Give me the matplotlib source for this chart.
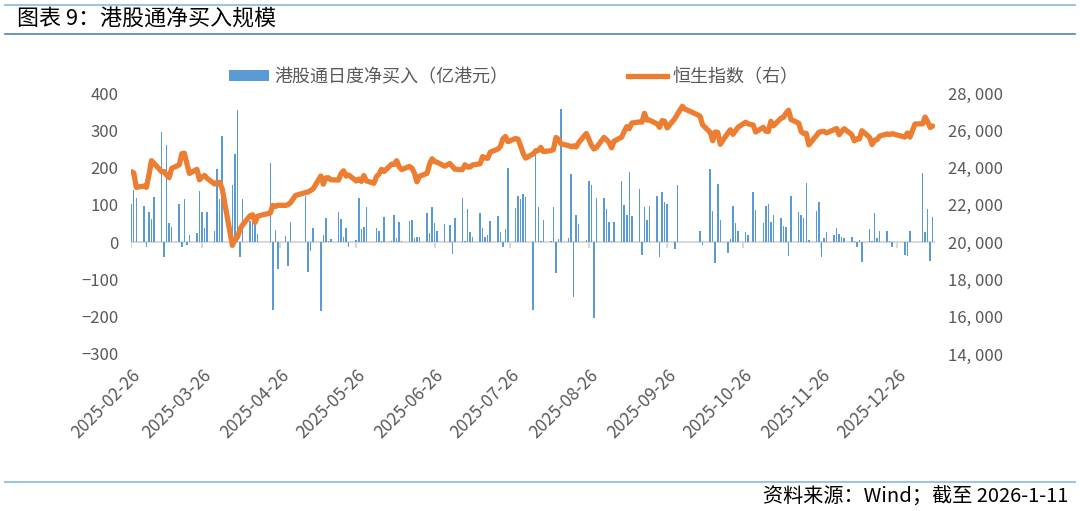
import numpy as np
import pandas as pd
import matplotlib
matplotlib.use("Agg")
import matplotlib.pyplot as plt
import matplotlib.transforms as mtransforms
from matplotlib.lines import Line2D
from matplotlib.patches import Patch

plt.rcParams['font.family'] = ['Noto Sans CJK SC', 'DejaVu Sans']

# trading days (HK market), one line per month
dates = pd.to_datetime([
    "2025-02-26", "2025-02-27", "2025-02-28",
    "2025-03-03", "2025-03-04", "2025-03-05", "2025-03-06", "2025-03-07", "2025-03-10", "2025-03-11",
    "2025-03-12", "2025-03-13", "2025-03-14", "2025-03-17", "2025-03-18", "2025-03-19", "2025-03-20",
    "2025-03-21", "2025-03-24", "2025-03-25", "2025-03-26", "2025-03-27", "2025-03-28", "2025-03-31",
    "2025-04-01", "2025-04-02", "2025-04-03", "2025-04-07", "2025-04-08", "2025-04-09", "2025-04-10",
    "2025-04-11", "2025-04-14", "2025-04-15", "2025-04-16", "2025-04-17", "2025-04-22", "2025-04-23",
    "2025-04-24", "2025-04-25", "2025-04-28", "2025-04-29", "2025-04-30",
    "2025-05-02", "2025-05-06", "2025-05-07", "2025-05-08", "2025-05-09", "2025-05-12", "2025-05-13",
    "2025-05-14", "2025-05-15", "2025-05-16", "2025-05-19", "2025-05-20", "2025-05-21", "2025-05-22",
    "2025-05-23", "2025-05-26", "2025-05-27", "2025-05-28", "2025-05-29", "2025-05-30",
    "2025-06-02", "2025-06-03", "2025-06-04", "2025-06-05", "2025-06-06", "2025-06-09", "2025-06-10",
    "2025-06-11", "2025-06-12", "2025-06-13", "2025-06-16", "2025-06-17", "2025-06-18", "2025-06-19",
    "2025-06-20", "2025-06-23", "2025-06-24", "2025-06-25", "2025-06-26", "2025-06-27", "2025-06-30",
    "2025-07-02", "2025-07-03", "2025-07-04", "2025-07-07", "2025-07-08", "2025-07-09", "2025-07-10",
    "2025-07-11", "2025-07-14", "2025-07-15", "2025-07-16", "2025-07-17", "2025-07-18", "2025-07-21",
    "2025-07-22", "2025-07-23", "2025-07-24", "2025-07-25", "2025-07-28", "2025-07-29", "2025-07-30",
    "2025-07-31",
    "2025-08-01", "2025-08-04", "2025-08-05", "2025-08-06", "2025-08-07", "2025-08-08", "2025-08-11",
    "2025-08-12", "2025-08-13", "2025-08-14", "2025-08-15", "2025-08-18", "2025-08-19", "2025-08-20",
    "2025-08-21", "2025-08-22", "2025-08-25", "2025-08-26", "2025-08-27", "2025-08-28", "2025-08-29",
    "2025-09-01", "2025-09-02", "2025-09-03", "2025-09-04", "2025-09-05", "2025-09-08", "2025-09-09",
    "2025-09-10", "2025-09-11", "2025-09-12", "2025-09-15", "2025-09-16", "2025-09-17", "2025-09-18",
    "2025-09-19", "2025-09-22", "2025-09-23", "2025-09-24", "2025-09-25", "2025-09-26", "2025-09-29",
    "2025-09-30",
    "2025-10-02", "2025-10-03", "2025-10-06", "2025-10-08", "2025-10-09", "2025-10-10", "2025-10-13",
    "2025-10-14", "2025-10-15", "2025-10-16", "2025-10-17", "2025-10-20", "2025-10-21", "2025-10-22",
    "2025-10-23", "2025-10-24", "2025-10-27", "2025-10-28", "2025-10-30", "2025-10-31",
    "2025-11-03", "2025-11-04", "2025-11-05", "2025-11-06", "2025-11-07", "2025-11-10", "2025-11-11",
    "2025-11-12", "2025-11-13", "2025-11-14", "2025-11-17", "2025-11-18", "2025-11-19", "2025-11-20",
    "2025-11-21", "2025-11-24", "2025-11-25", "2025-11-26", "2025-11-27", "2025-11-28",
    "2025-12-01", "2025-12-02", "2025-12-03", "2025-12-04", "2025-12-05", "2025-12-08", "2025-12-09",
    "2025-12-10", "2025-12-11", "2025-12-12", "2025-12-15", "2025-12-16", "2025-12-17", "2025-12-18",
    "2025-12-19", "2025-12-22", "2025-12-23", "2025-12-24", "2025-12-29", "2025-12-30", "2025-12-31",
    "2026-01-02", "2026-01-05", "2026-01-06", "2026-01-07", "2026-01-08", "2026-01-09",
])

# Hang Seng Index close
hsi = [
    23787, 23718, 22941,
    23006, 22941, 23594, 24369, 24231, 23783, 23782, 23600, 23462, 23959, 24145, 24740, 24771, 24219,
    23689, 23906, 23344, 23483, 23579, 23426, 23119,
    23206, 23202, 22849, 19828, 20127, 20264, 20681, 20915, 21417, 21466, 21057, 21395, 21562, 21971,
    21909, 21980, 21972, 22008, 22119,
    22504, 22662, 22691, 22775, 22867, 23549, 23108, 23450, 23453, 23345, 23332, 23681, 23827, 23544,
    23601, 23282, 23381, 23258, 23573, 23289,
    23158, 23512, 23654, 23907, 23792, 24181, 24162, 24367, 24035, 23892, 24060, 23980, 23711, 23237,
    23530, 23689, 24177, 24474, 24325, 24284, 24072,
    24221, 24069, 23916, 23887, 24148, 24028, 24028, 24139, 24203, 24590, 24517, 24498, 24825, 24994,
    25130, 25538, 25667, 25388, 25562, 25524, 25176, 24773,
    24507, 24733, 24902, 24910, 25081, 24858, 24907, 24969, 25613, 25519, 25270, 25176, 25122, 25166,
    25105, 25339, 25829, 25524, 25201, 24998, 25077,
    25617, 25496, 25343, 25058, 25418, 25633, 25938, 26200, 26086, 26388, 26446, 26438, 26908, 26544,
    26545, 26344, 26159, 26519, 26485, 26128, 26623, 26856,
    27287, 27140, 26958, 26829, 26752, 26290, 25889, 25441, 25910, 25888, 25247, 25858, 26027, 25781,
    25967, 26160, 26433, 26346, 26282, 25907,
    26158, 25952, 25935, 26485, 26241, 26649, 26696, 26922, 27073, 26572, 26384, 25930, 25830, 25835,
    25220, 25716, 25894, 25928, 25945, 25858,
    26033, 26095, 25760, 25935, 26085, 25765, 25434, 25541, 25530, 25976, 25628, 25235, 25468, 25498,
    25690, 25801, 25774, 25818, 25635, 25854, 25631,
    26338, 26347, 26710, 26459, 26149, 26232,
]

# southbound daily net buy, HKD 100m (None = connect closed)
net_buy = [
    103, 140, 118,
    97, -14, 81, 62, 120, 296, -41, 261, 51, 41, 102, -12, 115, -7,
    20, 24, 136, 82, 39, 80, 29,
    197, 115, 286, 152, 236, 355, -41, 116, 57, 78, 73, 22, 212, -181,
    33, -72, 17, -65, 54,
    None, 125, -80, -25, 39, -186, 20, 64, 3, 9, 82, 62, 13, 37,
    -12, 5, 118, 35, 40, 94,
    None, 37, 31, 4, 67, 4, 73, 11, 54, 3, 57, 60, 11, 13,
    13, 78, 24, 94, 51, 30, 48,
    46, -31, 64, 118, 2, 89, 26, 15, 79, 37, 13, 18, 58, 69,
    27, -14, 35, 198, 91, 124, 116, 129,
    121, -181, 234, 93, 4, 60, 3, 93, -83, 9, 357, 11, 183, -148,
    73, 49, 5, 164, 152, -204, 118,
    118, 89, 54, 4, 54, 164, 100, 73, 188, 71, 143, -34, 93, 60,
    97, 125, -41, 134, 109, 102, -18, 152,
    None, None, None, None, 29, -7, 196, 84, -56, 155, 60, -28, 9, 98,
    51, 31, 27, 20, 134, 87,
    51, 97, 102, 54, 73, 64, 44, 40, -38, 125, 82, 73, 64, 158,
    5, 84, 109, -41, 11, 26,
    20, 39, 22, 13, 11, 13, 2, -12, 6, -54, 36, 3, 78, 11,
    31, 29, 4, -14, -34, -38, 31,
    None, 185, 27, 89, -50, 67,
]

tick_dates = pd.to_datetime(["2025-%02d-26" % m for m in range(2, 13)])
tick_labels = [d.strftime("%Y-%m-%d") for d in tick_dates]

bar_label = "港股通日度净买入（亿港元）"
line_label = "恒生指数（右）"
title = "图表 9：港股通净买入规模"
source = "资料来源：Wind；截至 2026-1-11"

BLUE = "#5B9BD5"
ORANGE = "#ED7D31"
GREY_TXT = "#595959"
W, H = 1080, 511

fig = plt.figure(figsize=(W / 100, H / 100), dpi=100)
ax = fig.add_axes([131 / W, 1 - 354 / H, (935 - 131) / W, (354 - 93) / H])
ax2 = ax.twinx()

nb = np.array([np.nan if v is None else v for v in net_buy], dtype=float)
ok = ~np.isnan(nb)
ax.bar(dates[ok], nb[ok], width=0.6, color=BLUE, linewidth=0, zorder=2)

# baseline and monthly tick marks
ax.axhline(0, color="#D9D9D9", lw=1.5, zorder=1)
ax.vlines(tick_dates, -17, 0, color="#D9D9D9", lw=1.5, zorder=1)

ax2.plot(dates, hsi, color=ORANGE, lw=3.8, solid_joinstyle="round", solid_capstyle="round")

ax.set_xlim(pd.Timestamp("2025-02-26") - pd.Timedelta(hours=2), pd.Timestamp("2026-01-09 22:00"))
ax.set_ylim(-300, 400)
ax.set_yticks(range(-300, 401, 100))
ax2.set_ylim(14000, 28000)
ax2.set_yticks(range(14000, 28001, 2000))
ax2.set_yticklabels([f"{v:,}".replace(",", ", ") for v in range(14000, 28001, 2000)])

ax.set_xticks(tick_dates)
ax.set_xticklabels(tick_labels, rotation=45, ha="right", va="top", rotation_mode="anchor")
shift = mtransforms.ScaledTranslation(3 / 100, -2 / 100, fig.dpi_scale_trans)
for lab in ax.get_xticklabels():
    lab.set_transform(lab.get_transform() + shift)

for a in (ax, ax2):
    for s in a.spines.values():
        s.set_visible(False)
ax.tick_params(axis="x", length=0, pad=9, labelsize=12.5, colors=GREY_TXT)
ax.tick_params(axis="y", length=0, pad=9, labelsize=12, colors=GREY_TXT)
ax2.tick_params(axis="y", length=0, pad=9, labelsize=12, colors=GREY_TXT)

handles = [Patch(facecolor=BLUE, edgecolor="none"),
           Line2D([], [], color=ORANGE, lw=3.8)]
fig.legend(handles, [bar_label, line_label], ncol=2, loc="center",
           bbox_to_anchor=(514 / W, 1 - 77 / H), frameon=False, fontsize=13,
           handlelength=2.2, handleheight=0.6, handletextpad=0.3, columnspacing=6.6,
           labelcolor=GREY_TXT)

# header / footer
fig.text(17 / W, 1 - 20 / H, title, fontsize=15.8, ha="left", va="center", color="black")
fig.add_artist(Line2D([5 / W, 1075 / W], [1 - 5 / H] * 2, color="#9DC3E6", lw=1.5))
fig.add_artist(Line2D([5 / W, 1075 / W], [1 - 34 / H] * 2, color="#4F81BD", lw=1.2))
fig.add_artist(Line2D([5 / W, 1075 / W], [1 - 482 / H] * 2, color="#9DC3E6", lw=1.5))
fig.text(1068 / W, 1 - 497 / H, source, fontsize=14.5, ha="right", va="center", color="black")

fig.savefig("out.png", dpi=100)
